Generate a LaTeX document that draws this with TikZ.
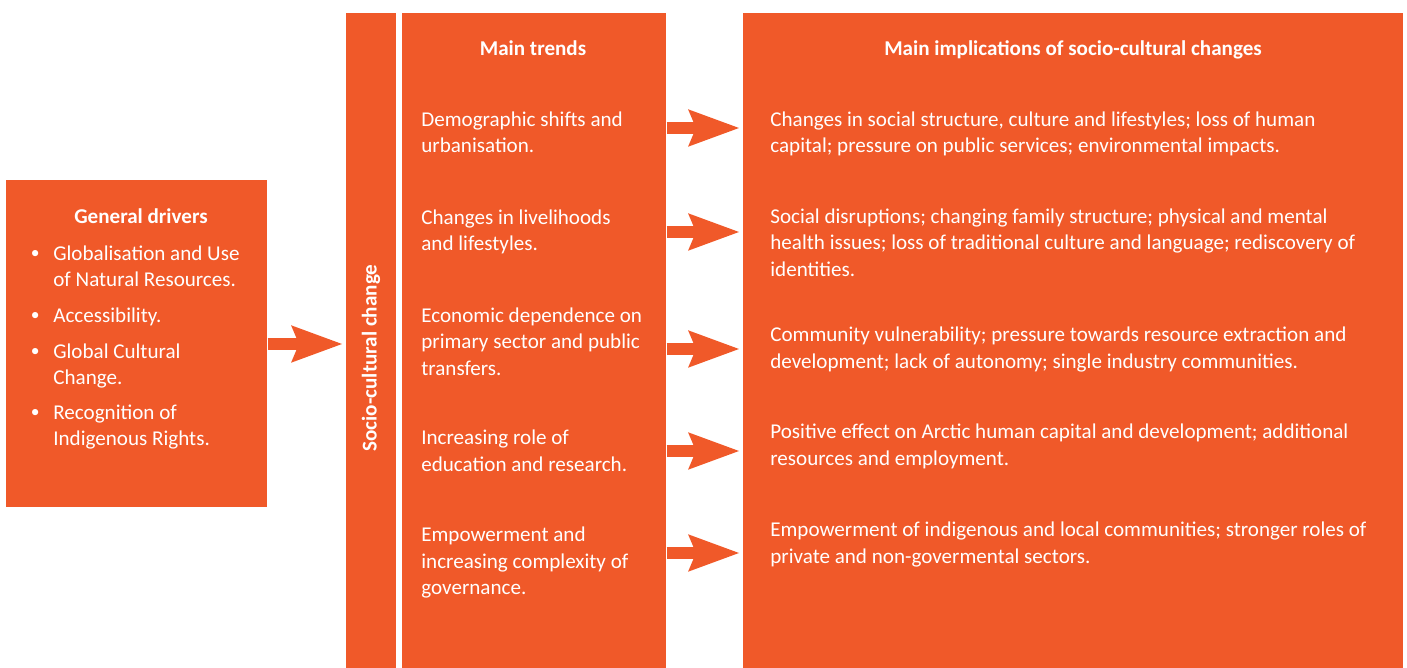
\documentclass[tikz,border=0pt]{standalone}
\usepackage{fontspec}
\setmainfont{Carlito}
\usetikzlibrary{arrows.meta}

\definecolor{arcorange}{RGB}{240,89,41}

\tikzset{
  panel/.style={fill=arcorange,draw=none,anchor=north west,inner sep=0pt},
  headtext/.style={text=white,inner sep=0pt,anchor=base,font=\fontsize{12}{14.8}\selectfont\bfseries},
  boxtext/.style={text=white,inner sep=0pt,anchor=base west,font=\fontsize{12}{14.8}\selectfont},
  bigarrow/.style={draw=arcorange,line width=0.25cm,
    -{Stealth[length=1.02cm,width=0.75cm,inset=0.16cm,line width=0pt]},shorten >=0.08cm}
}

\newcommand{\bul}{\makebox[0.44cm][l]{\hspace{-0.01cm}\raisebox{0.04cm}{\fontsize{10}{10}\selectfont •}}}

\begin{document}
\begin{tikzpicture}[x=0.02cm,y=-0.02cm]

  \useasboundingbox (0,0) rectangle (1407,668);

  % panels
  \node[panel,minimum width=5.22cm,minimum height=6.54cm] (drivers) at (6,180) {};
  \node[panel,minimum width=1cm,minimum height=13.1cm] (social) at (346,13) {};
  \node[panel,minimum width=5.28cm,minimum height=13.1cm] (trends) at (402,13) {};
  \node[panel,minimum width=13.2cm,minimum height=13.1cm] (impl) at (743,13) {};

  % titles
  \node[headtext] (drvhead) at (141,224) {General drivers};
  \node[headtext] (trdhead) at (533,56) {Main trends};
  \node[headtext] (imphead) at (1073,56) {Main implications of socio-cultural changes};
  \node[headtext,anchor=center,rotate=90] (socialtxt) at (371,358) {Socio-cultural change};

  % general drivers
  \node[boxtext] (drvlist) at (31,261) {\begin{tabular}[t]{@{}l@{}l@{}}
    \bul & Globalisation and Use\\
         & of Natural Resources.\\[0.19cm]
    \bul & Accessibility.\\[0.19cm]
    \bul & Global Cultural\\
         & Change.\\[0.19cm]
    \bul & Recognition of\\
         & Indigenous Rights.
  \end{tabular}};

  % main trends
  \begin{scope}[every node/.style={boxtext}]
    \node (trd1) at (421,127) {\begin{tabular}[t]{@{}l@{}}Demographic shifts and\\ urbanisation.\end{tabular}};
    \node (trd2) at (421,225) {\begin{tabular}[t]{@{}l@{}}Changes in livelihoods\\ and lifestyles.\end{tabular}};
    \node (trd3) at (421,323) {\begin{tabular}[t]{@{}l@{}}Economic dependence on\\ primary sector and public\\ transfers.\end{tabular}};
    \node (trd4) at (421,445) {\begin{tabular}[t]{@{}l@{}}Increasing role of\\ education and research.\end{tabular}};
    \node (trd5) at (421,542) {\begin{tabular}[t]{@{}l@{}}Empowerment and\\ increasing complexity of\\ governance.\end{tabular}};
  \end{scope}

  % implications
  \begin{scope}[every node/.style={boxtext}]
    \node (imp1) at (770,127) {\begin{tabular}[t]{@{}l@{}}Changes in social structure, culture and lifestyles; loss of human\\ capital; pressure on public services; environmental impacts.\end{tabular}};
    \node (imp2) at (770,224) {\begin{tabular}[t]{@{}l@{}}Social disruptions; changing family structure; physical and mental\\ health issues; loss of traditional culture and language; rediscovery of\\ identities.\end{tabular}};
    \node (imp3) at (770,342) {\begin{tabular}[t]{@{}l@{}}Community vulnerability; pressure towards resource extraction and\\ development; lack of autonomy; single industry communities.\end{tabular}};
    \node (imp4) at (770,439) {\begin{tabular}[t]{@{}l@{}}Positive effect on Arctic human capital and development; additional\\ resources and employment.\end{tabular}};
    \node (imp5) at (770,537) {\begin{tabular}[t]{@{}l@{}}Empowerment of indigenous and local communities; stronger roles of\\ private and non-govermental sectors.\end{tabular}};
  \end{scope}

  % arrows
  \draw[bigarrow] (drivers.east |- 0,344) -- (social.west |- 0,344);
  \foreach \y in {128,232,349,451,553}
    \draw[bigarrow] (trends.east |- 0,\y) -- (impl.west |- 0,\y);

\end{tikzpicture}
\end{document}
